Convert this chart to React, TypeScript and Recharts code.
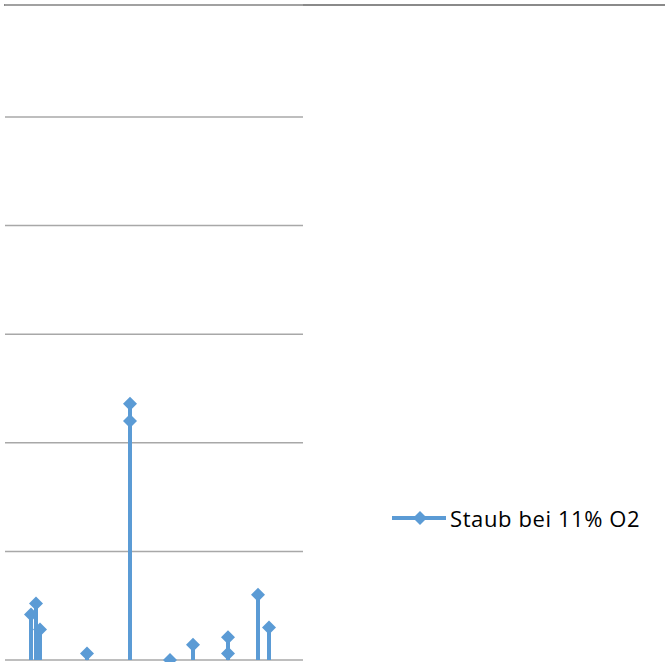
import React from "react";
import { CartesianGrid, Line, LineChart, XAxis, YAxis } from "recharts";

// Messtage (Position auf der Zeitachse) und Staubwerte bei 11% O2
const messTage = [26, 31, 35, 82, 125, 165, 188, 223, 253, 264];
const staubWerte: number[][] = [[2.1], [2.6], [1.4], [0.3], [11.0, 11.8], [0], [0.7], [1.05, 0.3], [3.0], [1.5]];
const yTicks = [0, 5, 10, 15, 20, 25];
const serienName = "Staub bei 11% O2";

const BLUE = "#5b9bd5";

type Row = { t: number; v: number | null; m: boolean };

// each Messtag rises from the baseline to its values and drops back, gaps between
const data: Row[] = messTage.flatMap((t, i) => [
  { t, v: 0, m: false },
  ...staubWerte[i].map((v) => ({ t, v, m: true })),
  { t, v: 0, m: false },
  { t, v: null, m: false }
]);

const Diamond = (props: any) => {
  const { cx, cy, payload, index } = props;
  if (!payload?.m || cx == null || cy == null) return <g key={`d${index}`} />;
  const s = 7;
  return (
    <polygon
      key={`d${index}`}
      points={`${cx},${cy - s} ${cx + s},${cy} ${cx},${cy + s} ${cx - s},${cy}`}
      fill={BLUE}
    />
  );
};

// legend sits outside the chart so it doesn't shrink the plot area
const LegendBox = () => (
  <div
    style={{
      position: "absolute",
      left: 392,
      top: 503,
      display: "flex",
      alignItems: "center",
      fontFamily: "'Open Sans', sans-serif",
      fontSize: 22,
      letterSpacing: 0.6,
      color: "#000"
    }}
  >
    <svg width={56} height={16} style={{ marginRight: 2 }}>
      <line x1={0} y1={8} x2={54} y2={8} stroke={BLUE} strokeWidth={4} />
      <polygon points="28,1 35,8 28,15 21,8" fill={BLUE} />
    </svg>
    <span>{serienName}</span>
  </div>
);

export default function App(): JSX.Element {
  return (
    <div style={{ position: "absolute", left: 0, top: 0, width: 665, height: 662, background: "#fff" }}>
      {/* top border line spanning the whole width */}
      <div style={{ position: "absolute", left: 4, top: 4, width: 661, height: 2, background: "#8a8a8a" }} />
      <LineChart width={665} height={662} data={data} margin={{ top: 5, right: 362, bottom: 2, left: 5 }}>
        <CartesianGrid vertical={false} stroke="#a8a8a8" strokeWidth={1.5} />
        <XAxis dataKey="t" type="number" domain={[0, 298]} hide height={0} />
        <YAxis
          type="number"
          domain={[0, 30.15]}
          ticks={yTicks}
          width={0}
          axisLine={false}
          tickLine={false}
          tickFormatter={() => ""}
        />
        <Line
          type="linear"
          dataKey="v"
          name={serienName}
          stroke={BLUE}
          strokeWidth={4}
          dot={Diamond}
          activeDot={false}
          connectNulls={false}
          isAnimationActive={false}
        />
      </LineChart>
      <LegendBox />
    </div>
  );
}
